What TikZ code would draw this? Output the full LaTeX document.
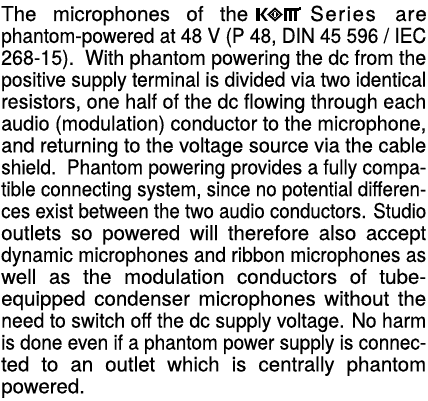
\documentclass[tikz,border=0pt]{standalone}
\usepackage{fontspec}
\setmainfont{TeX Gyre Heros}[FakeBold=0.3]
\usepackage{graphicx}
\usetikzlibrary{positioning}

\newlength\linew
\setlength\linew{425pt}
\newcommand\fitline[1]{\sbox0{#1}\ifdim\wd0>\linew\resizebox{\linew}{\height}{#1}\else\makebox[\linew][s]{#1}\fi}

\tikzset{
  para/.style = {
      font=\fontsize{20.5}{22}\selectfont\addfontfeature{FakeBold=0.3},
      inner sep=0pt,
      text height=15pt,
      text depth=5pt
  },
  word/.style = {
      para,
      anchor=base west
  },
  logo/.style = {
      fill=black,
      draw=none
  }
}

\begin{document}
\begin{tikzpicture}[node distance=21.9pt]
    \useasboundingbox (0,0) rectangle (428pt,-401pt);
    % First line
    \node[word] (l1) at (1pt,-21pt) {\makebox[247pt][s]{The microphones of the}};
    \begin{scope}[shift={(256pt,-21pt)}, x=1pt, y=1pt]
      \fill[logo] (0,0) rectangle (3.8,13);
      \fill[logo] (3.8,5.5) -- (9,13) -- (12,13) -- (7.2,6.5) -- (12,0) -- (9,0) -- (3.8,7) -- cycle;
      \draw[line width=1.8pt] (19,0.6) -- (25.5,6.5) -- (19,12.4) -- (12.5,6.5) -- cycle;
      \fill[logo] (19,2.7) -- (22.8,6.5) -- (19,10.3) -- (15.2,6.5) -- cycle;
      \fill[white] (18.3,4.3) rectangle (19.7,8.7);
      \fill[logo] (27.5,10.3) rectangle (43,13);
      \fill[logo] (27.5,0) rectangle (30.7,13);
      \fill[logo] (32.5,0) rectangle (35.7,13);
      \fill[logo] (37.5,0) rectangle (40.7,13);
      \fill[logo] (43,10.8) rectangle (45,13.5);
    \end{scope}
    \node[word] (series) at (310pt,-21pt) {S\hspace{1.5pt}e\hspace{1.5pt}r\hspace{1.5pt}i\hspace{1.5pt}e\hspace{1.5pt}s};
    \node[word, anchor=base east] (are) at (427pt,-21pt) {a\hspace{1pt}r\hspace{1pt}e};
    % Other lines
    \node[word] (l2) at (1pt,-42.9pt) {\fitline{phantom-powered at 48 V (P 48, DIN 45 596 / IEC}};
    \node[para, below of=l2] (l3) {\fitline{268-15).\ \ With phantom powering the dc from the}};
    \node[para, below of=l3] (l4) {\fitline{positive supply terminal is divided via two identical}};
    \node[para, below of=l4] (l5) {\fitline{resistors, one half of the dc flowing through each}};
    \node[para, below of=l5] (l6) {\fitline{audio (modulation) conductor to the microphone,}};
    \node[para, below of=l6] (l7) {\fitline{and returning to the voltage source via the cable}};
    \node[para, below of=l7] (l8) {\fitline{shield.\ \ Phantom powering provides a fully compa-}};
    \node[para, below of=l8] (l9) {\fitline{tible connecting system, since no potential differen-}};
    \node[para, below of=l9] (l10) {\fitline{ces exist between the two audio conductors. Studio}};
    \node[para, below of=l10] (l11) {\fitline{outlets so powered will therefore also accept}};
    \node[para, below of=l11] (l12) {\fitline{dynamic microphones and ribbon microphones as}};
    \node[para, below of=l12] (l13) {\fitline{well as the modulation conductors of tube-}};
    \node[para, below of=l13] (l14) {\fitline{equipped condenser microphones without the}};
    \node[para, below of=l14] (l15) {\fitline{need to switch off the dc supply voltage. No harm}};
    \node[para, below of=l15] (l16) {\fitline{is done even if a phantom power supply is connec-}};
    \node[para, below of=l16] (l17) {\fitline{ted to an outlet which is centrally phantom}};
    \node[para, below of=l17] (l18) {\makebox[\linew][l]{powered.}};
\end{tikzpicture}
\end{document}
